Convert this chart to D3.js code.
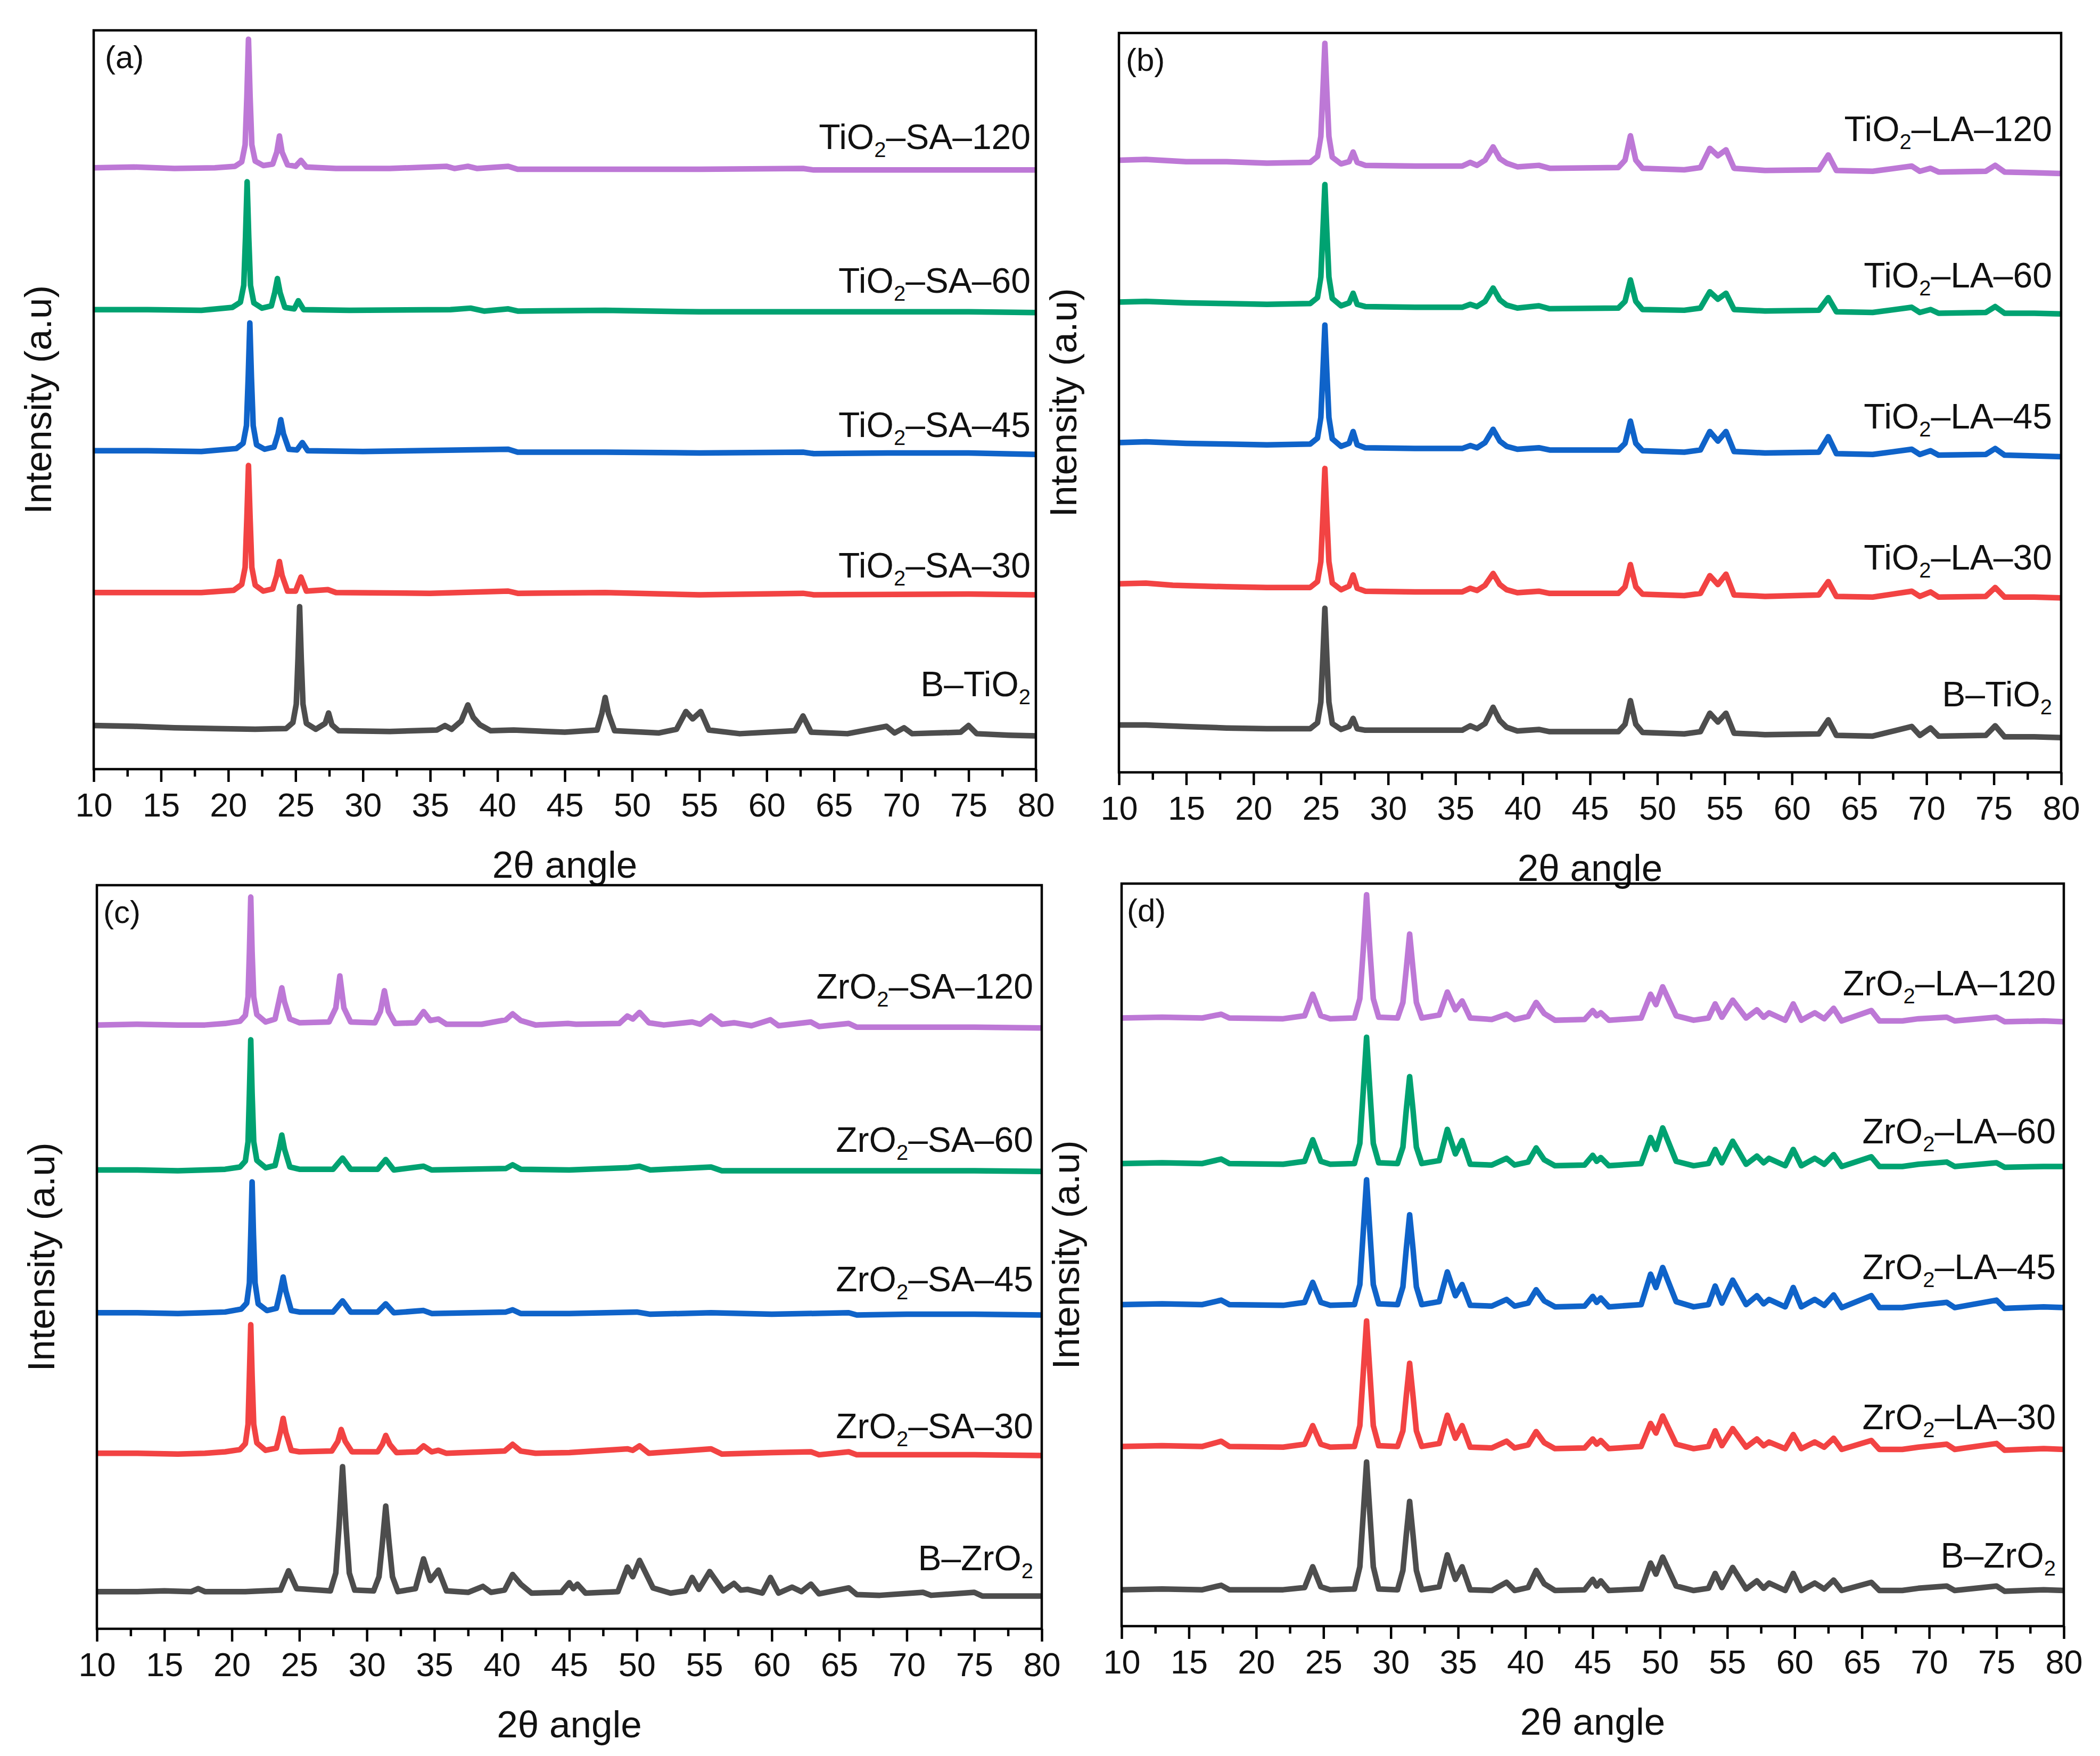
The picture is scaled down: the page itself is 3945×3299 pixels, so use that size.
<!DOCTYPE html>
<html lang="en">
<head>
    <meta charset="UTF-8">
    <title>XRD</title>
    <style>
        *{ box-sizing: border-box; }
        html,body{ margin:0; padding:0; background:#fff; }
        #main{ width:3945px; height:3299px; }
        text{ font-family:"Liberation Sans", Arial, sans-serif; fill:#111; }
    </style>
</head>
<body>
<div id="main"></div>
<script src="https://d3js.org/d3.v7.min.js"></script>
<script>
    /*=========== 1 - data ===========*/
    /* x axis: 2theta, tick labels */
    const xTicks=[10,15,20,25,30,35,40,45,50,55,60,65,70,75,80]
    const xMinor=[12.5,17.5,22.5,27.5,32.5,37.5,42.5,47.5,52.5,57.5,62.5,67.5,72.5,77.5]

    /* series order in every panel: 120, 60, 45, 30, bare oxide */
    const namesA=['TiO2–SA–120','TiO2–SA–60','TiO2–SA–45','TiO2–SA–30','B–TiO2']
    const namesB=['TiO2–LA–120','TiO2–LA–60','TiO2–LA–45','TiO2–LA–30','B–TiO2']
    const namesC=['ZrO2–SA–120','ZrO2–SA–60','ZrO2–SA–45','ZrO2–SA–30','B–ZrO2']
    const namesD=['ZrO2–LA–120','ZrO2–LA–60','ZrO2–LA–45','ZrO2–LA–30','B–ZrO2']
    const panelTags=['(a)','(b)','(c)','(d)']

    /* patterns as [2θ, stacked intensity (a.u., 0-100 of panel)] */
    const aSA120=[[10,81.4],[13,81.5],[16,81.3],[19,81.4],[20.5,81.6],[21.0,82.2],[21.25,84.5],[21.38,91],[21.5,98.8],[21.62,91],[21.75,84.5],[22.0,82.3],[22.6,81.7],[23.3,81.9],[23.6,83.5],[23.8,85.7],[24.0,83.5],[24.4,81.8],[25.0,81.6],[25.4,82.4],[25.8,81.5],[28,81.3],[32,81.3],[36.2,81.6],[36.8,81.3],[37.8,81.6],[38.5,81.3],[40.8,81.6],[41.5,81.2],[48,81.2],[55,81.2],[62.7,81.3],[63.5,81.1],[70,81.1],[75,81.1],[80,81.1]]
    const aSA60=[[10,62.2],[14,62.2],[18,62.1],[20.3,62.5],[20.9,63.2],[21.15,65.5],[21.28,72],[21.4,79.5],[21.52,72],[21.65,65.5],[21.9,63.1],[22.5,62.4],[23.2,62.7],[23.45,64.5],[23.65,66.4],[23.85,64.5],[24.2,62.5],[24.9,62.3],[25.2,63.4],[25.6,62.2],[29,62.1],[36.5,62.2],[38,62.4],[39,62.0],[40.8,62.3],[41.5,62.0],[48,62.1],[55,61.9],[65,61.9],[75,61.9],[80,61.8]]
    const aSA45=[[10,43.1],[14,43.1],[18,43.0],[20.6,43.4],[21.1,44.1],[21.35,46.5],[21.48,53],[21.6,60.4],[21.72,53],[21.85,46.5],[22.1,43.9],[22.7,43.3],[23.4,43.6],[23.7,45.4],[23.9,47.3],[24.1,45.4],[24.5,43.3],[25.1,43.2],[25.5,44.2],[25.9,43.1],[30,43.0],[40.8,43.3],[41.5,42.9],[48,42.9],[55,42.8],[62.7,42.9],[63.5,42.7],[69,42.8],[75,42.8],[80,42.6]]
    const aSA30=[[10,23.9],[14,23.9],[18,23.9],[20.4,24.2],[21.0,25.0],[21.25,27.3],[21.38,34],[21.5,41.1],[21.62,34],[21.75,27.3],[22.0,24.9],[22.6,24.1],[23.3,24.4],[23.6,26.2],[23.8,28.1],[24.0,26.2],[24.4,24.1],[25.0,24.1],[25.4,26.0],[25.8,24.1],[27.4,24.3],[28,23.9],[35,23.8],[40.8,24.1],[41.5,23.8],[48,23.9],[55,23.6],[62.7,23.8],[63.5,23.6],[75,23.7],[80,23.6]]
    const aBare=[[10,5.9],[13,5.8],[16,5.6],[19,5.5],[22,5.4],[24.3,5.5],[24.8,6.3],[25.05,8.8],[25.18,15],[25.3,22.0],[25.42,15],[25.55,8.8],[25.8,6.2],[26.5,5.4],[27.2,6.2],[27.45,7.6],[27.7,6.0],[28.2,5.2],[32,5.1],[35.5,5.3],[36.1,5.9],[36.6,5.4],[37.3,6.5],[37.8,8.7],[38.2,7.0],[38.7,6.0],[39.5,5.2],[41.2,5.3],[45,5.0],[47.4,5.3],[47.75,7.5],[48.0,9.7],[48.25,7.5],[48.7,5.2],[52,4.9],[53.3,5.4],[54.0,7.8],[54.5,6.8],[55.1,7.8],[55.7,5.3],[58,4.8],[62.1,5.2],[62.7,7.2],[63.3,5.0],[66,4.8],[68.9,5.8],[69.5,4.9],[70.2,5.6],[70.8,4.8],[74.4,5.0],[75.0,5.9],[75.6,4.8],[78,4.6],[80,4.5]]

    const bLA120=[[10,82.8],[12,82.9],[15,82.6],[18,82.6],[21,82.4],[24.2,82.5],[24.75,83.3],[25.0,86],[25.15,92],[25.3,98.6],[25.45,92],[25.6,86],[25.85,83.2],[26.5,82.3],[27.1,82.6],[27.4,83.9],[27.7,82.5],[28.3,82.1],[32,82.0],[35.5,82.0],[36.1,82.5],[36.6,82.1],[37.2,82.8],[37.8,84.6],[38.3,83.0],[38.8,82.4],[39.6,81.9],[41.2,82.1],[42,81.7],[47.1,81.8],[47.6,82.8],[48.0,86.1],[48.4,82.8],[48.9,81.7],[52,81.5],[53.2,81.8],[53.9,84.4],[54.5,83.4],[55.1,84.2],[55.7,81.7],[58,81.4],[62.0,81.5],[62.7,83.5],[63.3,81.4],[66,81.3],[68.9,82.0],[69.5,81.3],[70.3,81.7],[70.9,81.2],[74.4,81.3],[75.1,82.1],[75.8,81.2],[78,81.1],[80,81.0]]
    const bLA60=[[10,63.6],[12,63.7],[15,63.5],[18,63.4],[21,63.3],[24.2,63.4],[24.75,64.2],[25.0,67],[25.15,73],[25.3,79.5],[25.45,73],[25.6,67],[25.85,64.1],[26.5,63.1],[27.1,63.5],[27.4,64.8],[27.7,63.3],[28.3,63.0],[32,62.9],[35.5,62.9],[36.1,63.3],[36.6,63.0],[37.2,63.7],[37.8,65.5],[38.3,63.9],[38.8,63.2],[39.6,62.8],[41.2,63.1],[42,62.7],[47.1,62.8],[47.6,63.7],[48.0,66.6],[48.4,63.7],[48.9,62.6],[52,62.5],[53.2,62.8],[53.9,65.0],[54.5,64.0],[55.1,64.8],[55.7,62.6],[58,62.4],[62.0,62.5],[62.7,64.2],[63.3,62.3],[66,62.2],[68.9,62.9],[69.5,62.2],[70.3,62.6],[70.9,62.1],[74.4,62.2],[75.1,63.0],[75.8,62.1],[78,62.1],[80,62.0]]
    const bLA45=[[10,44.6],[12,44.7],[15,44.5],[18,44.4],[21,44.3],[24.2,44.4],[24.75,45.2],[25.0,48],[25.15,54],[25.3,60.5],[25.45,54],[25.6,48],[25.85,45.1],[26.5,44.1],[27.1,44.5],[27.4,46.1],[27.7,44.3],[28.3,43.9],[32,43.8],[35.5,43.8],[36.1,44.2],[36.6,43.9],[37.2,44.6],[37.8,46.4],[38.3,44.8],[38.8,44.1],[39.6,43.7],[41.2,43.9],[42,43.6],[47.1,43.6],[47.6,44.5],[48.0,47.5],[48.4,44.5],[48.9,43.5],[52,43.3],[53.2,43.6],[53.9,46.1],[54.5,44.8],[55.1,46.1],[55.7,43.4],[58,43.2],[62.0,43.3],[62.7,45.4],[63.3,43.1],[66,43.0],[68.9,43.7],[69.5,43.0],[70.3,43.5],[70.9,42.9],[74.4,43.0],[75.1,43.8],[75.8,42.9],[78,42.8],[80,42.7]]
    const bLA30=[[10,25.5],[12,25.6],[14,25.3],[18,25.1],[21,25.0],[24.2,25.0],[24.75,25.8],[25.0,28.5],[25.15,34.5],[25.3,41.1],[25.45,34.5],[25.6,28.5],[25.85,25.6],[26.5,24.7],[27.1,25.2],[27.4,26.7],[27.7,24.9],[28.3,24.5],[32,24.4],[35.5,24.4],[36.1,24.9],[36.6,24.6],[37.2,25.3],[37.8,26.9],[38.3,25.4],[38.8,24.7],[39.6,24.3],[41.2,24.5],[42,24.2],[47.1,24.2],[47.6,25.1],[48.0,28.1],[48.4,25.1],[48.9,24.1],[52,23.9],[53.2,24.2],[53.9,26.6],[54.5,25.4],[55.1,26.8],[55.7,24.0],[58,23.8],[62.0,24.0],[62.7,25.8],[63.3,23.8],[66,23.7],[68.9,24.5],[69.5,23.8],[70.3,24.4],[70.9,23.7],[74.4,23.8],[75.1,25.0],[75.8,23.7],[78,23.7],[80,23.6]]
    const bBare=[[10,6.4],[12,6.4],[15,6.2],[18,6.0],[21,5.9],[24.2,5.9],[24.75,6.7],[25.0,9.5],[25.15,15.5],[25.3,22.2],[25.45,15.5],[25.6,9.5],[25.85,6.6],[26.5,5.8],[27.1,6.2],[27.4,7.3],[27.7,5.9],[28.3,5.7],[32,5.7],[35.5,5.7],[36.1,6.3],[36.6,5.9],[37.2,6.6],[37.8,8.8],[38.3,7.0],[38.8,6.1],[39.6,5.6],[41.2,5.8],[42,5.5],[47.1,5.5],[47.6,6.5],[48.0,9.7],[48.4,6.5],[48.9,5.4],[52,5.2],[53.2,5.5],[53.9,8.0],[54.5,6.8],[55.1,8.0],[55.7,5.3],[58,5.1],[62.0,5.2],[62.7,7.1],[63.3,5.0],[66,4.9],[68.9,6.2],[69.5,5.0],[70.3,6.0],[70.9,4.9],[74.4,5.0],[75.1,6.3],[75.8,4.8],[78,4.8],[80,4.7]]

    const cSA120=[[10,81.2],[13,81.3],[16,81.2],[18,81.2],[19.5,81.4],[20.6,81.7],[21.0,82.5],[21.2,85],[21.3,91],[21.4,98.4],[21.5,91],[21.62,85],[21.85,82.6],[22.5,81.6],[23.2,82.0],[23.5,84.5],[23.7,86.2],[23.9,84.3],[24.3,82.0],[25,81.5],[27.2,81.6],[27.7,83.5],[28.0,87.8],[28.3,83.5],[28.8,81.6],[30.6,81.5],[31.0,83.0],[31.3,85.8],[31.6,83.0],[32.1,81.4],[33.6,81.5],[34.2,83.0],[34.7,81.8],[35.3,82.0],[35.9,81.3],[38.5,81.3],[40.3,81.9],[40.8,82.7],[41.4,81.8],[42.5,81.2],[44.9,81.4],[45.5,81.3],[48.7,81.4],[49.3,82.4],[49.7,82.0],[50.2,82.9],[50.9,81.5],[52,81.2],[54.1,81.6],[54.7,81.3],[55.5,82.4],[56.3,81.3],[57.2,81.5],[58.5,81.1],[59.9,81.9],[60.5,81.1],[62.9,81.6],[63.5,81.0],[65.7,81.4],[66.3,80.9],[70,80.9],[75,80.9],[80,80.8]]
    const cSA60=[[10,61.7],[13,61.7],[16,61.6],[18,61.7],[19.5,61.8],[20.6,62.1],[21.0,62.9],[21.2,65.5],[21.3,72],[21.4,79.2],[21.5,72],[21.62,65.5],[21.85,63.0],[22.5,62.0],[23.2,62.3],[23.5,64.6],[23.7,66.4],[23.9,64.5],[24.3,62.1],[25,61.8],[27.5,61.8],[28.2,63.3],[28.8,61.8],[30.8,61.8],[31.4,63.1],[32.0,61.7],[34.2,62.2],[34.8,61.7],[40.3,61.9],[40.8,62.4],[41.4,61.8],[45,61.7],[49.3,62.0],[50.2,62.2],[51,61.7],[55.5,62.1],[56.3,61.6],[60,61.6],[65,61.6],[70,61.6],[75,61.6],[80,61.5]]
    const cSA45=[[10,42.5],[13,42.5],[16,42.4],[18,42.5],[19.5,42.6],[20.7,43.0],[21.1,43.8],[21.3,46.5],[21.4,53],[21.5,60.1],[21.6,53],[21.72,46.5],[21.95,43.7],[22.6,42.8],[23.3,43.1],[23.6,45.5],[23.8,47.3],[24.0,45.4],[24.4,42.8],[25,42.6],[27.5,42.6],[28.2,44.1],[28.8,42.6],[30.8,42.6],[31.4,43.7],[32.0,42.5],[34.2,42.8],[34.8,42.4],[40.3,42.6],[40.8,42.9],[41.4,42.4],[45,42.4],[50,42.6],[51,42.3],[55.5,42.5],[60,42.3],[65.7,42.5],[66.3,42.2],[70,42.3],[75,42.3],[80,42.2]]
    const cSA30=[[10,23.6],[13,23.6],[16,23.5],[18,23.6],[19.5,23.8],[20.6,24.1],[21.0,24.9],[21.2,27.5],[21.3,34],[21.4,40.9],[21.5,34],[21.62,27.5],[21.85,25.0],[22.5,24.0],[23.3,24.3],[23.6,26.5],[23.8,28.3],[24.0,26.4],[24.4,24.0],[25,23.8],[27.4,23.9],[27.85,25.2],[28.1,26.8],[28.4,25.2],[28.9,23.8],[30.8,23.8],[31.15,24.8],[31.4,26.0],[31.7,24.8],[32.2,23.7],[33.7,23.8],[34.2,24.6],[34.8,23.8],[35.3,24.0],[35.9,23.6],[40.2,23.9],[40.8,24.8],[41.4,23.9],[42.5,23.6],[45,23.7],[49.3,24.2],[49.7,24.0],[50.2,24.6],[50.9,23.6],[55.5,24.2],[56.3,23.5],[60,23.7],[62.9,23.8],[63.5,23.4],[65.7,23.8],[66.3,23.4],[70,23.4],[75,23.4],[80,23.3]]
    const cBare=[[10,5.0],[13,5.0],[15,5.1],[17.0,5.0],[17.5,5.4],[18.0,5.0],[21,5.0],[23.6,5.2],[24.2,7.8],[24.8,5.4],[27.3,5.1],[27.7,7.5],[27.95,14],[28.2,21.8],[28.45,14],[28.7,7.5],[29.1,5.2],[30.5,5.1],[30.9,7.0],[31.15,11.5],[31.4,16.5],[31.65,11.5],[31.9,7.0],[32.3,5.0],[33.6,5.4],[34.2,9.4],[34.7,6.5],[35.3,7.9],[35.9,5.1],[37.5,4.9],[38.6,5.7],[39.2,4.9],[40.2,5.2],[40.8,7.3],[41.4,6.0],[42.2,4.8],[44.4,4.9],[45.0,6.2],[45.3,5.4],[45.6,6.0],[46.2,4.8],[48.6,5.0],[49.3,8.3],[49.7,7.0],[50.2,9.2],[51.2,5.5],[52.5,4.8],[53.6,5.1],[54.1,6.9],[54.6,5.3],[55.4,7.7],[56.4,5.1],[57.2,6.1],[57.7,5.2],[58.2,5.3],[59.3,4.8],[59.9,6.9],[60.5,4.8],[61.5,5.6],[62.2,5.0],[62.9,6.0],[63.5,4.7],[65.7,5.5],[66.3,4.6],[68,4.5],[71.2,4.9],[71.8,4.5],[75.0,4.9],[75.6,4.4],[80,4.4]]

    const dLA120=[[10,81.9],[13,82.0],[16,81.9],[17.4,82.4],[18,81.9],[22,81.8],[23.6,82.2],[24.2,85.1],[24.8,82.2],[25.5,81.8],[27.3,81.9],[27.7,84.5],[27.95,91],[28.2,98.5],[28.45,91],[28.7,84.5],[29.1,82.0],[30.5,81.9],[30.9,84.0],[31.15,88.5],[31.4,93.2],[31.65,88.5],[31.9,84.0],[32.3,81.9],[33.6,82.3],[34.2,85.4],[34.8,83.0],[35.3,84.2],[35.9,81.9],[37.5,81.7],[38.6,82.4],[39.2,81.7],[40.2,82.1],[40.8,84.0],[41.4,82.5],[42.2,81.6],[44.4,81.7],[45.0,82.9],[45.3,82.2],[45.6,82.6],[46.2,81.6],[48.6,81.9],[49.3,85.1],[49.7,83.7],[50.2,86.1],[51.2,82.2],[52.5,81.6],[53.6,81.9],[54.1,83.8],[54.6,82.0],[55.4,84.3],[56.4,81.9],[57.2,83.0],[57.7,82.0],[58.1,82.6],[59.3,81.6],[59.9,83.8],[60.5,81.6],[61.5,82.6],[62.2,81.8],[62.9,83.2],[63.5,81.5],[65.7,82.9],[66.3,81.5],[68,81.5],[69.2,81.8],[71.3,82.0],[71.9,81.5],[75.0,82.0],[75.6,81.4],[78.5,81.5],[80,81.4]]
    const dLA60=[[10,62.3],[13,62.4],[16,62.3],[17.4,62.9],[18,62.3],[22,62.2],[23.6,62.6],[24.2,65.5],[24.8,62.6],[25.5,62.2],[27.3,62.3],[27.7,65],[27.95,72],[28.2,79.3],[28.45,72],[28.7,65],[29.1,62.4],[30.5,62.3],[30.9,64.5],[31.15,69.5],[31.4,74.0],[31.65,69.5],[31.9,64.5],[32.3,62.3],[33.6,62.7],[34.2,66.9],[34.8,63.6],[35.3,65.4],[35.9,62.2],[37.5,62.1],[38.6,63.0],[39.2,62.1],[40.2,62.5],[40.8,64.4],[41.4,62.8],[42.2,62.0],[44.4,62.1],[45.0,63.4],[45.3,62.6],[45.6,63.1],[46.2,62.0],[48.6,62.3],[49.3,65.8],[49.7,64.2],[50.2,67.1],[51.2,62.6],[52.5,62.0],[53.6,62.3],[54.1,64.2],[54.6,62.4],[55.4,65.3],[56.4,62.2],[57.2,63.3],[57.7,62.4],[58.1,63.0],[59.3,62.0],[59.9,64.2],[60.5,62.0],[61.5,63.0],[62.2,62.2],[62.9,63.5],[63.5,61.9],[65.7,63.2],[66.3,61.9],[68,61.9],[69.2,62.2],[71.3,62.5],[71.9,61.9],[75.0,62.4],[75.6,61.8],[78.5,61.9],[80,61.9]]
    const dLA45=[[10,43.3],[13,43.4],[16,43.3],[17.4,43.9],[18,43.3],[22,43.2],[23.6,43.6],[24.2,46.3],[24.8,43.6],[25.5,43.2],[27.3,43.3],[27.7,46],[27.95,53],[28.2,60.1],[28.45,53],[28.7,46],[29.1,43.4],[30.5,43.3],[30.9,45.7],[31.15,50.8],[31.4,55.4],[31.65,50.8],[31.9,45.7],[32.3,43.3],[33.6,43.7],[34.2,47.7],[34.8,44.5],[35.3,46.0],[35.9,43.2],[37.5,43.1],[38.6,44.0],[39.2,43.1],[40.2,43.5],[40.8,45.3],[41.4,43.8],[42.2,43.0],[44.4,43.1],[45.0,44.4],[45.3,43.6],[45.6,44.2],[46.2,43.0],[48.6,43.3],[49.3,47.4],[49.7,45.6],[50.2,48.3],[51.2,43.7],[52.5,43.0],[53.6,43.3],[54.1,45.8],[54.6,43.5],[55.4,46.6],[56.4,43.3],[57.2,44.5],[57.7,43.4],[58.1,44.0],[59.3,43.0],[59.9,45.6],[60.5,43.0],[61.5,44.0],[62.2,43.2],[62.9,44.6],[63.5,42.9],[65.7,44.5],[66.3,42.9],[68,42.9],[69.2,43.2],[71.3,43.6],[71.9,42.9],[75.0,43.9],[75.6,42.8],[78.5,43.0],[80,42.9]]
    const dLA30=[[10,24.2],[13,24.3],[16,24.2],[17.4,24.9],[18,24.2],[22,24.1],[23.6,24.5],[24.2,27.0],[24.8,24.5],[25.5,24.1],[27.3,24.2],[27.7,27],[27.95,34],[28.2,41.1],[28.45,34],[28.7,27],[29.1,24.3],[30.5,24.2],[30.9,26.3],[31.15,31],[31.4,35.4],[31.65,31],[31.9,26.3],[32.3,24.2],[33.6,24.6],[34.2,28.4],[34.8,25.3],[35.3,27.0],[35.9,24.1],[37.5,24.0],[38.6,24.9],[39.2,24.0],[40.2,24.4],[40.8,26.2],[41.4,24.7],[42.2,23.9],[44.4,24.0],[45.0,25.2],[45.3,24.5],[45.6,25.0],[46.2,23.9],[48.6,24.2],[49.3,27.3],[49.7,26.0],[50.2,28.3],[51.2,24.5],[52.5,23.9],[53.6,24.2],[54.1,26.3],[54.6,24.3],[55.4,26.6],[56.4,24.1],[57.2,25.2],[57.7,24.3],[58.1,24.8],[59.3,23.9],[59.9,25.8],[60.5,23.9],[61.5,24.8],[62.2,24.1],[62.9,25.3],[63.5,23.8],[65.7,25.0],[66.3,23.8],[68,23.8],[69.2,24.1],[71.3,24.5],[71.9,23.8],[75.0,24.6],[75.6,23.7],[78.5,23.9],[80,23.8]]
    const dBare=[[10,4.9],[13,5.0],[16,4.9],[17.4,5.5],[18,4.9],[22,4.9],[23.6,5.2],[24.2,8.0],[24.8,5.3],[25.5,4.9],[27.3,5.0],[27.7,8],[27.95,15],[28.2,22.1],[28.45,15],[28.7,8],[29.1,5.0],[30.5,4.9],[30.9,7.5],[31.15,12.3],[31.4,16.8],[31.65,12.3],[31.9,7.5],[32.3,4.9],[33.6,5.3],[34.2,9.6],[34.8,6.3],[35.3,8.0],[35.9,4.9],[37.5,4.8],[38.6,5.9],[39.2,4.8],[40.2,5.2],[40.8,7.5],[41.4,5.7],[42.2,4.8],[44.4,4.9],[45.0,6.3],[45.3,5.4],[45.6,6.1],[46.2,4.8],[48.6,5.0],[49.3,8.5],[49.7,7.0],[50.2,9.3],[51.2,5.4],[52.5,4.8],[53.6,5.1],[54.1,7.1],[54.6,5.2],[55.4,7.9],[56.4,5.0],[57.2,6.1],[57.7,5.1],[58.1,5.8],[59.3,4.8],[59.9,7.1],[60.5,4.8],[61.5,5.8],[62.2,5.0],[62.9,6.2],[63.5,4.8],[65.7,5.9],[66.3,4.8],[68,4.8],[69.2,5.1],[71.3,5.4],[71.9,4.8],[75.0,5.4],[75.6,4.7],[78.5,4.9],[80,4.8]]

    /* series colours (120, 60, 45, 30, bare) */
    const colors=['#bd78d6','#00a271','#0f63c9','#f24343','#4d4d4d']

    /*=========== 2 - container ===========*/
    const width=3945
    const height=3299
    const svg=d3.select('#main').append('svg')
        .attr('xmlns','http://www.w3.org/2000/svg')
        .attr('width',width)
        .attr('height',height)
        .attr('viewBox',`0 0 ${width} ${height}`)

    /* panel frames in pixels, label lifts above the curve end */
    const panels=[
        {box:[176,1946,57,1445],names:namesA,series:[aSA120,aSA60,aSA45,aSA30,aBare],lift:[39,37,33,32,75],labelDx:10,tagDx:21},
        {box:[2102,3872,62,1451],names:namesB,series:[bLA120,bLA60,bLA45,bLA30,bBare],lift:[61,50,53,53,59],labelDx:17,tagDx:13},
        {box:[182,1957,1663,3060],names:namesC,series:[cSA120,cSA60,cSA45,cSA30,cBare],lift:[55,37,44,32,49],labelDx:16,tagDx:12},
        {box:[2107,3877,1660,3055],names:namesD,series:[dLA120,dLA60,dLA45,dLA30,dBare],lift:[49,43,54,38,43],labelDx:15,tagDx:10}
    ]

    /*=========== 3 - draw each panel ===========*/
    panels.forEach((p,i)=>{
        const [L,R,T,B]=p.box
        const xScale=d3.scaleLinear().domain([10,80]).range([L,R])
        const yScale=d3.scaleLinear().domain([0,100]).range([B,T])
        const g=svg.append('g')

        const line=d3.line()
            .x(d=>xScale(d[0]))
            .y(d=>yScale(d[1]))

        /* patterns */
        g.selectAll('path.xrd')
            .data(p.series)
            .join('path')
            .attr('class','xrd')
            .attr('d',line)
            .attr('fill','none')
            .attr('stroke',(d,k)=>colors[k])
            .attr('stroke-width',10.5)
            .attr('stroke-linejoin','round')

        /* series labels, the 2 after O is a subscript */
        p.series.forEach((s,k)=>{
            const last=s[s.length-1]
            const parts=p.names[k].split(/(?<=O)2/)
            const t=g.append('text')
                .attr('x',R-p.labelDx)
                .attr('y',yScale(last[1])-p.lift[k])
                .attr('text-anchor','end')
                .style('font-size','66px')
            t.append('tspan').text(parts[0])
            t.append('tspan').attr('dy',15).style('font-size','40px').text('2')
            if(parts[1]) t.append('tspan').attr('dy',-15).text(parts[1])
        })

        /* frame */
        g.append('rect')
            .attr('x',L).attr('y',T)
            .attr('width',R-L).attr('height',B-T)
            .attr('fill','none')
            .attr('stroke','#000')
            .attr('stroke-width',4.5)

        /* x axis: major ticks with labels, minor ticks without */
        const major=g.append('g')
            .attr('transform',`translate(0,${B})`)
            .call(d3.axisBottom(xScale).tickValues(xTicks).tickSize(24).tickPadding(20).tickFormat(d3.format('d')))
        major.select('.domain').remove()
        major.selectAll('line').attr('stroke-width',4.5).attr('stroke','#000')
        major.selectAll('text').style('font-size','63px').attr('fill','#111')
            .attr('font-family','"Liberation Sans", Arial, sans-serif')

        const minor=g.append('g')
            .attr('transform',`translate(0,${B})`)
            .call(d3.axisBottom(xScale).tickValues(xMinor).tickSize(14).tickFormat(''))
        minor.select('.domain').remove()
        minor.selectAll('line').attr('stroke-width',4.5).attr('stroke','#000')

        /* axis titles */
        g.append('text')
            .attr('x',(L+R)/2)
            .attr('y',B+204)
            .attr('text-anchor','middle')
            .style('font-size','71px')
            .text('2θ angle')

        g.append('text')
            .attr('transform',`translate(${L-80},${(T+B)/2}) rotate(-90)`)
            .attr('text-anchor','middle')
            .style('font-size','71px')
            .text('Intensity (a.u)')

        /* panel tag */
        g.append('text')
            .attr('x',L+p.tagDx)
            .attr('y',T+71)
            .style('font-size','60px')
            .text(panelTags[i])
    })
</script>
</body>
</html>
